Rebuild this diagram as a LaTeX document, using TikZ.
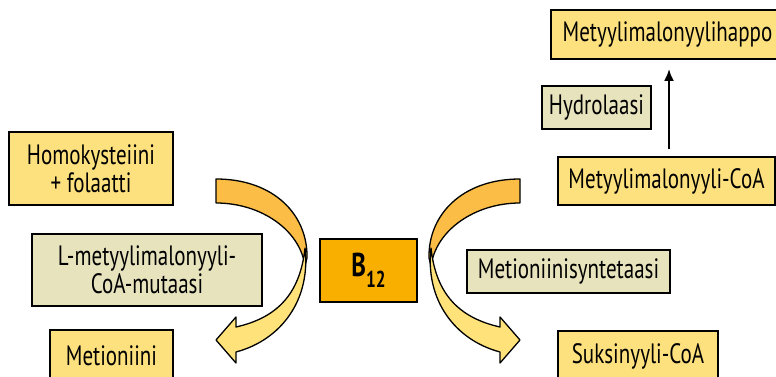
\documentclass[tikz,border=0pt]{standalone}
\usepackage{fontspec}
\setmainfont[FakeStretch=0.75]{PT Sans}
\usetikzlibrary{arrows.meta}
\definecolor{boxy}{HTML}{FEE17F}
\definecolor{beige}{HTML}{E7E3BD}
\definecolor{bor}{HTML}{F9AF00}
\definecolor{darkband}{HTML}{FBBD45}
\definecolor{lightband}{HTML}{FFE37A}
\tikzset{
  sbox/.style={draw=black, line width=1.8pt, fill=boxy, inner sep=0pt, align=center,
    font=\fontsize{28}{28}\selectfont},
  ebox/.style={sbox, fill=beige},
  band/.style={draw=black, line width=1.3pt, line join=round},
  keepside/.style={},
  mirrorside/.style={xshift=736pt, xscale=-1},
}
\newcommand\mycurvedarrow[1]{%
\begin{scope}[#1]
  \filldraw[band, fill=darkband]
    (520,179) .. controls (462,179) and (428,215) .. (429,258)
    -- (431,266) .. controls (436,230) and (475,203) .. (520,203) -- cycle;
  \filldraw[band, fill=lightband]
    (431,248) .. controls (425,300) and (455,340) .. (500,352)
    -- (500,363) -- (520,340) -- (500,317) -- (500,327)
    .. controls (460,318) and (436,295) .. (431,248) -- cycle;
\end{scope}}
\begin{document}
\begin{tikzpicture}[x=1pt,y=-1pt]
\useasboundingbox (0,0) rectangle (776,377);
\clip (0,0) rectangle (776,377);
% boxes
\node[sbox, minimum width=164pt, minimum height=73pt] (homo) at (91,168.5) {Homokysteiini\\+ folaatti};
\node[ebox, minimum width=230pt, minimum height=72pt] (mut) at (147,270) {L-metyylimalonyyli-\\CoA-mutaasi};
\node[sbox, minimum width=123pt, minimum height=52pt] (met) at (111.5,356) {Metioniini};
\node[sbox, fill=bor, minimum width=97pt, minimum height=63pt] (b12) at (368.5,270.5) {\fontsize{33}{33}\selectfont\bfseries B\raisebox{-0.32em}{\fontsize{23}{23}\selectfont 12}};
\node[ebox, minimum width=203pt, minimum height=43pt] (syn) at (568.5,271.5) {Metioniinisyntetaasi};
\node[sbox, minimum width=217pt, minimum height=48pt] (mmcoa) at (666.5,181) {Metyylimalonyyli-CoA};
\node[sbox, minimum width=160pt, minimum height=50pt] (suk) at (638,356) {Suksinyyli-CoA};
\node[sbox, minimum width=233pt, minimum height=49pt] (happo) at (667.5,34.5) {Metyylimalonyylihappo};
\node[ebox, minimum width=109pt, minimum height=43pt] (hyd) at (596.5,107.5) {Hydrolaasi};
% straight arrow
\draw[line width=2.2pt, -{Latex[length=12pt,width=10pt]}, shorten <=7pt, shorten >=9pt]
  ([xshift=2.5pt]mmcoa.north) -- ([xshift=2.5pt]mmcoa.north |- happo.south);
% curved arrows
\mycurvedarrow{keepside}
\mycurvedarrow{mirrorside}
\end{tikzpicture}
\end{document}
